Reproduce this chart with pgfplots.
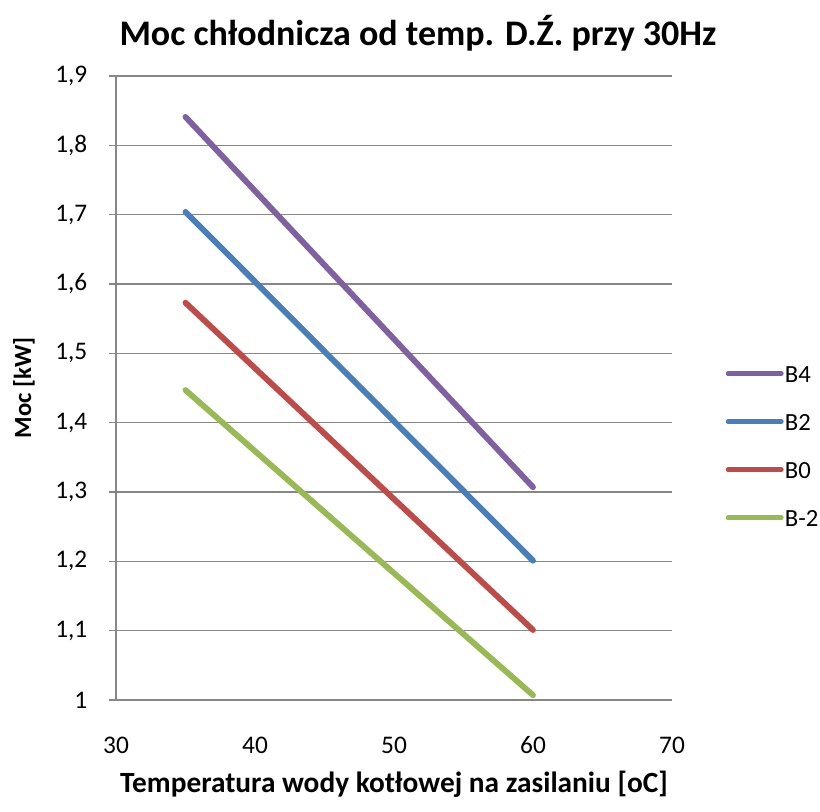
\documentclass[border=0pt]{standalone}
\usepackage{pgfplots}
\pgfplotsset{compat=1.18}
\usepackage{fontspec}
\setmainfont{Carlito}
\definecolor{sB4}{HTML}{7F60A0}
\definecolor{sB2}{HTML}{4A7EBB}
\definecolor{sB0}{HTML}{BE4B48}
\definecolor{sBm2}{HTML}{98B954}
\definecolor{gridgray}{HTML}{878787}

\begin{document}
\begin{tikzpicture}
  \useasboundingbox (-87pt,-83.25pt) rectangle (528pt,525pt);
  \begin{axis}[
    scale only axis,
    width=417pt, height=468pt,
    xmin=30, xmax=70, ymin=1, ymax=1.9,
    xtick={30,40,50,60,70},
    ytick={1,1.1,...,1.9},
    /pgf/number format/assume math mode=true,
    /pgf/number format/use comma,
    /pgf/number format/fixed,
    /pgf/number format/precision=1,
    ticklabel style={font=\fontsize{19pt}{23pt}\selectfont},
    xticklabel style={yshift=-19pt},
    yticklabel style={xshift=-13pt},
    ymajorgrids=true,
    grid style={gridgray, line width=1.2pt},
    axis line style={gridgray, line width=1.2pt},
    axis x line*=bottom,
    axis y line*=left,
    x axis line style={-},
    y axis line style={-},
    xtick style={draw=none},
    ytick style={gridgray, line width=1.2pt},
    tick align=outside,
    major tick length=5pt,
    xlabel={Temperatura wody kotłowej na zasilaniu [oC]},
    ylabel={Moc [kW]},
    xlabel style={font=\bfseries\fontsize{22pt}{26pt}\selectfont, at={(axis description cs:0.5,0)}, anchor=center, yshift=-63pt},
    ylabel style={font=\bfseries\fontsize{18.5pt}{22pt}\selectfont, at={(axis description cs:0,0.5)}, anchor=center, yshift=69pt},
    legend style={draw=none, fill=none, at={(1.095,0.4116)}, anchor=west,
      inner sep=0pt, font=\fontsize{18.5pt}{22pt}\selectfont,
      nodes={inner sep=0pt, text height=13pt, text depth=0pt},
      row sep=19.3pt, column sep=1pt, cells={anchor=west}},
    legend image code/.code={\draw[#1, line width=3.4pt, line cap=round] (0pt,0pt) -- (40pt,0pt); \path (0pt,8pt);},
    every axis plot/.append style={line width=4.4pt, line cap=round, no markers},
    clip=false,
  ]
    \addplot[sB4] coordinates {(35,1.841) (60,1.307)};
    \addlegendentry{B4}
    \addplot[sB2] coordinates {(35,1.704) (60,1.201)};
    \addlegendentry{B2}
    \addplot[sB0] coordinates {(35,1.573) (60,1.101)};
    \addlegendentry{B0}
    \addplot[sBm2] coordinates {(35,1.447) (60,1.007)};
    \addlegendentry{B-2}
    \node[font=\bfseries\fontsize{27pt}{32pt}\selectfont, anchor=center] at ([xshift=18pt, yshift=32pt]axis description cs:0.5,1) {Moc chłodnicza od temp. D.Ź. przy 30Hz};
  \end{axis}
\end{tikzpicture}
\end{document}
